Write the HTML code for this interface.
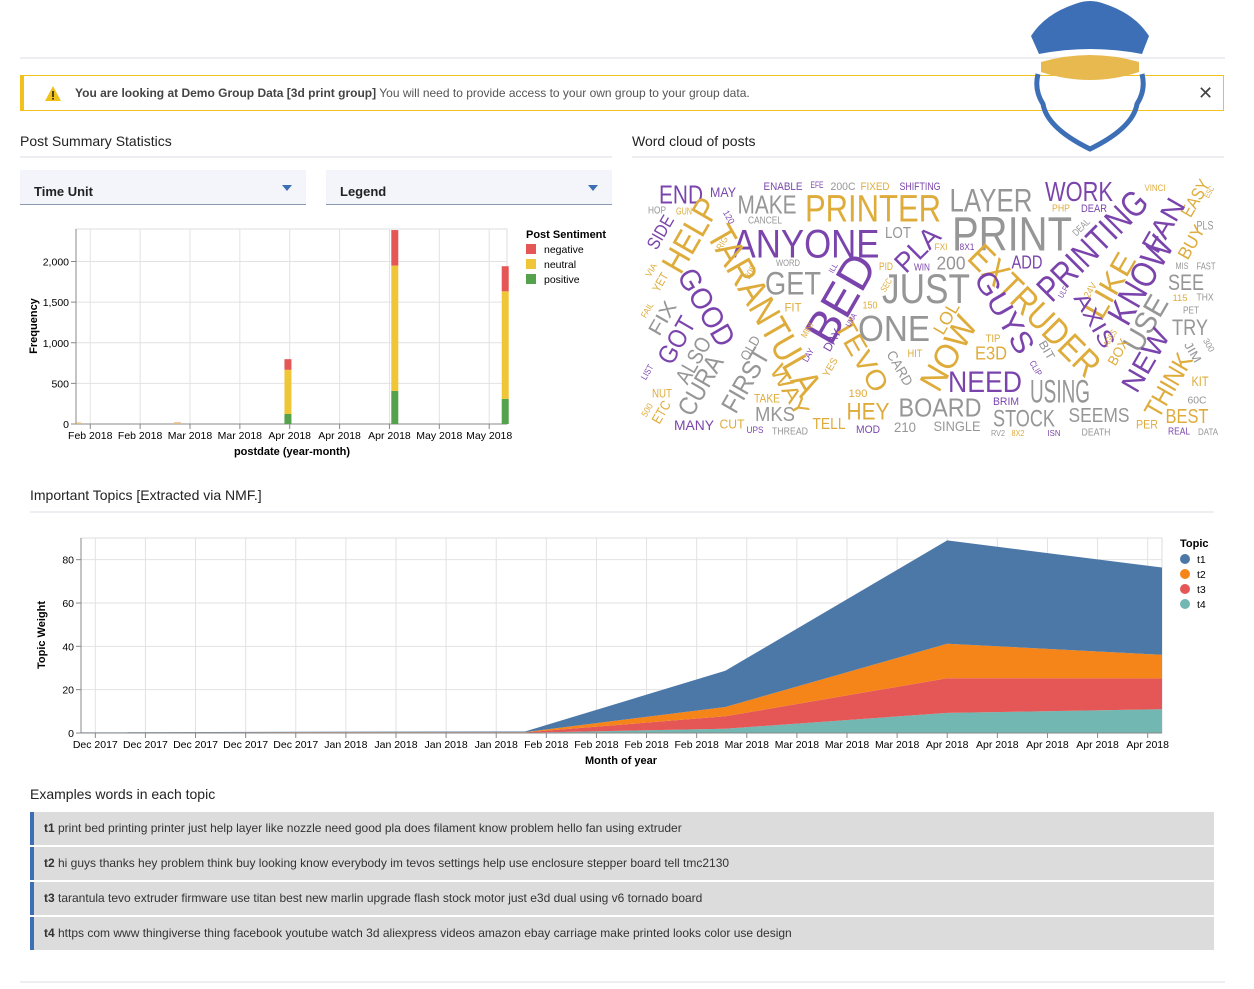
<!DOCTYPE html>
<html><head><meta charset="utf-8">
<style>
body{margin:0;width:1254px;height:989px;background:#fff;font-family:"Liberation Sans",sans-serif;position:relative;overflow:hidden;color:#333}
.abs{position:absolute}
.hr{position:absolute;height:2px;background:#eceef2}
.title{position:absolute;font-size:14px;color:#222}
.dd{position:absolute;top:170px;height:34px;background:#f3f5fa;border-bottom:1px solid #8a9ab0;width:286px}
.dd span{position:absolute;left:14px;top:14px;font-size:13px;font-weight:bold;color:#222}
.dd i{position:absolute;right:14px;top:15px;width:0;height:0;border-left:5px solid transparent;border-right:5px solid transparent;border-top:6px solid #3d6fb6}
.row{position:absolute;left:30px;height:33px;background:#dcdcdc;border-left:4px solid #3d6fb6;font-size:12px;color:#333;line-height:33px;padding-left:10px;box-sizing:border-box;width:1184px}
</style></head><body>
<div class="hr" style="left:20px;top:57px;width:1205px"></div>
<div class="abs" style="left:20px;top:75px;width:1204px;height:36px;border:1px solid #f1c21b;border-left:4px solid #f1c21b;box-sizing:border-box">
 <svg class="abs" style="left:20px;top:9px" width="18" height="17"><path d="M9 1 L17 16 L1 16 Z" fill="#f1c21b"/><rect x="8.2" y="6" width="1.6" height="6" fill="#222"/><rect x="8.2" y="13" width="1.6" height="1.6" fill="#222"/></svg>
 <div class="abs" style="left:51px;top:10px;font-size:12px;color:#555;white-space:nowrap"><b style="color:#444">You are looking at Demo Group Data [3d print group]</b> You will need to provide access to your own group to your group data.</div>
 <div class="abs" style="left:1174px;top:7px;font-size:18px;color:#444">✕</div>
</div>
<svg class="abs" style="left:1025px;top:0" width="130" height="155">
 <path d="M6,36 Q20,14 50,4 Q65,-2 80,4 Q110,14 124,36 L117,54 Q65,44 14,54 Z" fill="#3d6fb6"/>
 <path d="M16,62 Q65,48 114,62 L114,72 Q65,88 16,72 Z" fill="#e8b94f"/>
 <path d="M13,74 Q9,90 18,104 Q22,128 65,149 Q108,128 112,104 Q121,90 117,74" fill="none" stroke="#3d6fb6" stroke-width="5"/>
</svg>
<div class="title" style="left:20px;top:133px">Post Summary Statistics</div>
<div class="hr" style="left:20px;top:156px;width:592px"></div>
<div class="title" style="left:632px;top:133px">Word cloud of posts</div>
<div class="hr" style="left:632px;top:156px;width:592px"></div>
<div class="dd" style="left:20px"><span>Time Unit</span><i></i></div>
<div class="dd" style="left:326px"><span>Legend</span><i></i></div>
<div class="title" style="left:30px;top:487px">Important Topics [Extracted via NMF.]</div>
<div class="hr" style="left:30px;top:511px;width:1184px"></div>
<div class="title" style="left:30px;top:786px">Examples words in each topic</div>
<div class="row" style="top:812px"><b>t1</b> print bed printing printer just help layer like nozzle need good pla does filament know problem hello fan using extruder</div>
<div class="row" style="top:847px"><b>t2</b> hi guys thanks hey problem think buy looking know everybody im tevos settings help use enclosure stepper board tell tmc2130</div>
<div class="row" style="top:882px"><b>t3</b> tarantula tevo extruder firmware use titan best new marlin upgrade flash stock motor just e3d dual using v6 tornado board</div>
<div class="row" style="top:917px"><b>t4</b> https com www thingiverse thing facebook youtube watch 3d aliexpress videos amazon ebay carriage make printed looks color use design</div>
<div class="hr" style="left:20px;top:981px;width:1205px"></div>

<svg id="charts" class="abs" style="left:0;top:0" width="1254" height="989" font-family="Liberation Sans, sans-serif"></svg>

<script>
// ---- bar chart data ----
const barDates = ["2018-01-31","2018-02-28","2018-03-31","2018-04-30","2018-05-31"];
const barPositive = [0,0,123,407,309];
const barNeutral = [15,15,544,1543,1324];
const barNegative = [5,8,131,437,309];
const barTickDates = ["2018-02-04","2018-02-18","2018-03-04","2018-03-18","2018-04-01","2018-04-15","2018-04-29","2018-05-13","2018-05-27"];
const barTickLabels = ["Feb 2018","Feb 2018","Mar 2018","Mar 2018","Apr 2018","Apr 2018","Apr 2018","May 2018","May 2018"];
const barYTicks = [0,500,1000,1500,2000];
const barYLabels = ["0","500","1,000","1,500","2,000"];
const sentimentNames = ["negative","neutral","positive"];
// ---- area chart data ----
const areaDates = ["2017-12-01","2018-01-01","2018-02-01","2018-03-01","2018-04-01","2018-05-01"];
const topicT1 = [0.1,0.2,0.3,16.7,47.7,40.3];
const topicT2 = [0.1,0.1,0.1,4.3,15.9,10.9];
const topicT3 = [0.1,0.2,0.2,5.7,16.0,14.2];
const topicT4 = [0.0,0.1,0.1,2.0,9.3,11.0];
const areaTickDates = ["2017-12-03","2017-12-10","2017-12-17","2017-12-24","2017-12-31","2018-01-07","2018-01-14","2018-01-21","2018-01-28","2018-02-04","2018-02-11","2018-02-18","2018-02-25","2018-03-04","2018-03-11","2018-03-18","2018-03-25","2018-04-01","2018-04-08","2018-04-15","2018-04-22","2018-04-29"];
const areaTickLabels = ["Dec 2017","Dec 2017","Dec 2017","Dec 2017","Dec 2017","Jan 2018","Jan 2018","Jan 2018","Jan 2018","Feb 2018","Feb 2018","Feb 2018","Feb 2018","Mar 2018","Mar 2018","Mar 2018","Mar 2018","Apr 2018","Apr 2018","Apr 2018","Apr 2018","Apr 2018"];
const areaYTicks = [0,20,40,60,80];
const topicNames = ["t1","t2","t3","t4"];
// ---- word cloud data: text, cx, cy, size, length, rotation, color ----
const cloudWords = [
["END",681,194,26,44,0,"p"],["MAY",723,192,14,26,0,"p"],["ENABLE",783,186,11,39,0,"p"],["EFE",817,185,9,13,0,"p"],["200C",843,186,11,25,0,"g"],["FIXED",875,186,11,29,0,"y"],["SHIFTING",920,186,11,41,0,"p"],["HOP",657,210,10,18,0,"g"],["GUN",684,211,10,16,0,"y"],["MAKE",767,204,26,59,0,"g"],["PRINTER",873,208,38,136,0,"y"],["LAYER",991,200,32,83,0,"g"],["WORK",1079,191,28,68,0,"p"],["VINCI",1155,188,9,21,0,"y"],["PHP",1061,208,10,18,0,"y"],["DEAR",1094,208,11,26,0,"p"],["CANCEL",765,220,10,34,0,"g"],["ANYONE",806,243,40,147,0,"p"],["LOT",898,232,16,26,0,"g"],["PRINT",1012,233,48,120,0,"g"],["8X1",967,247,9,15,0,"p"],["FXI",941,247,9,13,0,"y"],["WORD",788,263,9,24,0,"g"],["200",951,263,18,29,0,"g"],["PID",886,266,11,14,0,"y"],["WIN",922,267,10,16,0,"p"],["ADD",1027,262,18,31,0,"p"],["SEE",1186,282,22,36,0,"g"],["MIS",1182,266,9,13,0,"g"],["FAST",1206,266,10,19,0,"g"],["GET",793,283,32,56,0,"g"],["JUST",926,288,42,88,0,"g"],["115",1180,298,9,15,0,"y"],["THX",1205,297,10,17,0,"g"],["PET",1191,310,10,16,0,"g"],["TRY",1190,327,22,36,0,"g"],["ONE",894,328,36,72,0,"g"],["FIT",793,307,12,17,0,"y"],["150",870,305,10,15,0,"y"],["E3D",991,353,18,32,0,"y"],["TIP",993,338,11,15,0,"y"],["HIT",915,353,11,15,0,"y"],["NEED",985,381,30,74,0,"p"],["USING",1060,391,32,60,0,"g"],["KIT",1200,381,14,17,0,"y"],["60C",1197,400,10,19,0,"g"],["NUT",662,393,12,20,0,"y"],["TAKE",767,398,12,26,0,"y"],["MKS",775,414,20,40,0,"g"],["190",858,393,11,19,0,"y"],["HEY",868,411,24,43,0,"y"],["BOARD",940,407,26,83,0,"g"],["BRIM",1006,401,11,26,0,"p"],["STOCK",1024,418,24,62,0,"g"],["SEEMS",1099,415,20,61,0,"g"],["BEST",1187,416,20,43,0,"y"],["MANY",694,425,14,40,0,"p"],["CUT",732,424,13,25,0,"y"],["UPS",755,430,9,17,0,"p"],["THREAD",790,431,10,36,0,"g"],["TELL",829,423,16,33,0,"y"],["MOD",868,429,11,24,0,"p"],["210",905,427,14,22,0,"g"],["SINGLE",957,426,14,47,0,"g"],["RV2",998,433,8,14,0,"g"],["8X2",1018,433,8,13,0,"y"],["ISN",1054,433,8,13,0,"p"],["DEATH",1096,432,10,29,0,"g"],["PER",1147,424,12,22,0,"y"],["REAL",1179,431,10,22,0,"p"],["DATA",1208,432,9,20,0,"g"],["PLS",1205,225,12,17,0,"g"],
["EASY",1195,198,18,40,-60,"y"],["PRINTING",1092,245,36,140,-45,"p"],["FAN",1163,225,28,58,-60,"p"],["BUY",1191,242,18,36,-60,"y"],["SIDE",660,232,18,36,-60,"p"],["HELP",690,235,34,80,-60,"y"],["PLA",917,249,28,52,-45,"p"],["EXTRUDER",1035,310,36,170,45,"y"],["LIKE",1110,285,30,70,-60,"y"],["KNOW",1140,280,36,95,-60,"p"],["TARANTULA",765,310,38,190,60,"y"],["BED",840,298,46,95,-60,"p"],["GUYS",1005,312,30,90,60,"p"],["AXIS",1095,320,22,60,60,"p"],["USE",1145,323,30,60,-60,"g"],["GOOD",707,307,30,85,60,"p"],["FIX",662,318,20,36,-60,"g"],["GOT",676,340,26,50,-60,"p"],["LOL",946,318,18,34,-60,"y"],["NOW",948,353,34,80,-60,"y"],["TEVO",862,355,28,80,60,"y"],["ALSO",693,360,22,50,-60,"g"],["CURA",700,385,26,65,-60,"g"],["FIRST",745,380,26,70,-60,"g"],["OLD",750,348,14,26,-60,"g"],["DAY",832,340,12,24,-60,"p"],["CARD",900,368,14,38,60,"g"],["BIT",1047,350,12,20,60,"g"],["NEW",1145,360,28,68,-60,"p"],["BOX",1118,352,14,28,-60,"y"],["THINK",1168,385,26,70,-60,"y"],["JIM",1193,352,12,22,60,"g"],["WAY",790,390,22,56,60,"y"],["YES",830,367,10,20,-60,"y"],["ETC",661,412,14,24,-60,"y"],["120",729,217,9,14,60,"p"],["205",750,272,9,14,-60,"y"],["VIA",651,270,9,14,-60,"y"],["YET",660,282,12,20,-60,"y"],["FAIL",647,310,9,16,-60,"y"],["MINI",807,330,9,16,-60,"y"],["LAY",808,355,9,14,-60,"p"],["UMA",851,320,8,14,-60,"p"],["SEC",886,285,9,14,-60,"y"],["ILL",833,268,8,10,-60,"p"],["24V",1090,290,10,16,-60,"y"],["ULF",1063,292,8,12,-60,"p"],["AGES",1110,338,9,18,-60,"y"],["CLIP",1036,368,9,16,60,"p"],["300",1209,345,9,14,60,"g"],["500",647,410,9,14,-60,"y"],["LIST",647,372,9,16,-60,"p"],["DEAL",1081,227,10,20,-45,"g"],["ESC",1209,192,8,12,-60,"y"],["RIG",722,243,9,14,-60,"y"]
];
const cloudColors = {p:"#6f35a5",y:"#dca52b",g:"#8e8e8e"};

const NS = "http://www.w3.org/2000/svg";
const svg = document.getElementById('charts');
function mk(tag, attrs, parent){const e=document.createElementNS(NS,tag);for(const k in attrs)e.setAttribute(k,attrs[k]);(parent||svg).appendChild(e);return e;}
function txt(s, attrs, parent){const e=mk('text',attrs,parent);e.textContent=s;return e;}
const day = s => Date.UTC(+s.slice(0,4), +s.slice(5,7)-1, +s.slice(8,10))/86400000;

// ===== Bar chart =====
const bL=76,bR=507,bT=229,bB=424,bMax=2400;
const bD0=day("2018-01-31"), bD1=day("2018-06-01");
const bx = d => bL + (d-bD0)/(bD1-bD0)*(bR-bL);
const by = v => bB - v/bMax*(bB-bT);
const bg = mk('g',{});


mk('rect',{x:bL,y:bT,width:bR-bL,height:bB-bT,fill:"none",stroke:"#ddd"},bg);
barTickDates.forEach((d,i)=>{
  const x=bx(day(d));
  mk('line',{x1:x,x2:x,y1:bT,y2:bB,stroke:"#e2e2e2"},bg);
  mk('line',{x1:x,x2:x,y1:bB,y2:bB+5,stroke:"#888"},bg);
  const t=txt(barTickLabels[i],{x:x,y:bB+15,"font-size":10.5,"text-anchor":"middle",fill:"#000"},bg);
  
  
});
barYTicks.forEach((v,i)=>{
  const y=by(v);
  mk('line',{x1:bL,x2:bR,y1:y,y2:y,stroke:"#e2e2e2"},bg);
  mk('line',{x1:bL-5,x2:bL,y1:y,y2:y,stroke:"#888"},bg);
  const t=txt(barYLabels[i],{x:bL-7,y:y+4,"font-size":10.5,"text-anchor":"end",fill:"#000"},bg);
  
  
});
mk('line',{x1:bL,x2:bL,y1:bT,y2:bB,stroke:"#888"},bg);
mk('line',{x1:bL,x2:bR,y1:bB,y2:bB,stroke:"#888"},bg);
const sentColors=["#e45756","#efc638","#54a24b"];
barDates.forEach((d,i)=>{
  const cx=bx(day(d)+0.5);
  const p=barPositive[i], n=barNeutral[i], g=barNegative[i];
  const segs=[[0,p,2],[p,p+n,1],[p+n,p+n+g,0]];
  segs.forEach(s=>{
    if(s[1]<=s[0])return;
    const x0=Math.max(bL,cx-3.5), x1=cx+3.5;
    const r=mk('rect',{x:x0,y:by(s[1]),width:x1-x0,height:by(s[0])-by(s[1]),fill:sentColors[s[2]],opacity:i<2?0.5:1},bg);
    
    
  });
});
let t1=txt("postdate (year-month)",{x:292,y:455,"font-size":11,"font-weight":"bold","text-anchor":"middle",fill:"#000"},bg);


t1=txt("Frequency",{x:37,y:326,"font-size":11,"font-weight":"bold","text-anchor":"middle",fill:"#000",transform:"rotate(-90 37 326)"},bg);


t1=txt("Post Sentiment",{x:526,y:238,"font-size":11,"font-weight":"bold",fill:"#000"},bg);


sentimentNames.forEach((s,i)=>{
  const r=mk('rect',{x:526,y:244+i*15,width:10,height:10,fill:sentColors[i]},bg);
  
  
  const t=txt(s,{x:544,y:253+i*15,"font-size":10.5,fill:"#000"},bg);
  
  
});

// ===== Word cloud =====
const wg=mk('g',{opacity:0.92});


cloudWords.forEach(w=>{
  const t=txt(w[0],{x:w[1],y:w[2]+w[3]*0.36,"font-size":w[3],"text-anchor":"middle",fill:cloudColors[w[6]],textLength:w[4],lengthAdjust:"spacingAndGlyphs",transform:"rotate("+w[5]+" "+w[1]+" "+w[2]+")"},wg);
  
  
});

// ===== Area chart =====
const aL=81,aR=1162,aT=538,aB=733,aMax=90;
const aD0=day("2017-12-01"), aD1=day("2018-05-01");
const ax = d => aL + (d-aD0)/(aD1-aD0)*(aR-aL);
const ay = v => aB - v/aMax*(aB-aT);
const ag=mk('g',{});


mk('rect',{x:aL,y:aT,width:aR-aL,height:aB-aT,fill:"none",stroke:"#ddd"},ag);
areaTickDates.forEach((d,i)=>{
  const x=ax(day(d));
  mk('line',{x1:x,x2:x,y1:aT,y2:aB,stroke:"#e2e2e2"},ag);
  mk('line',{x1:x,x2:x,y1:aB,y2:aB+5,stroke:"#888"},ag);
  const t=txt(areaTickLabels[i],{x:x,y:aB+15,"font-size":10.5,"text-anchor":"middle",fill:"#000"},ag);
  
  
});
areaYTicks.forEach(v=>{
  const y=ay(v);
  mk('line',{x1:aL,x2:aR,y1:y,y2:y,stroke:"#e2e2e2"},ag);
  mk('line',{x1:aL-5,x2:aL,y1:y,y2:y,stroke:"#888"},ag);
  const t=txt(String(v),{x:aL-7,y:y+4,"font-size":10.5,"text-anchor":"end",fill:"#000"},ag);
  
  
});
mk('line',{x1:aL,x2:aL,y1:aT,y2:aB,stroke:"#888"},ag);
const series=[topicT4,topicT3,topicT2,topicT1];
const seriesNames=["t4","t3","t2","t1"];
const topicColors={t1:"#4c78a8",t2:"#f58518",t3:"#e45756",t4:"#72b7b2"};
let base=areaDates.map(()=>0);
series.forEach((s,k)=>{
  const top=base.map((b,i)=>b+s[i]);
  let d="";
  areaDates.forEach((dt,i)=>{d+=(i?"L":"M")+ax(day(dt)).toFixed(1)+","+ay(top[i]).toFixed(1);});
  for(let i=areaDates.length-1;i>=0;i--) d+="L"+ax(day(areaDates[i])).toFixed(1)+","+ay(base[i]).toFixed(1);
  const p=mk('path',{d:d+"Z",fill:topicColors[seriesNames[k]]},ag);
  
  
  base=top;
});
mk('line',{x1:aL,x2:aR,y1:aB,y2:aB,stroke:"#888"},ag);
t1=txt("Month of year",{x:621,y:764,"font-size":11,"font-weight":"bold","text-anchor":"middle",fill:"#000"},ag);


t1=txt("Topic Weight",{x:45,y:635,"font-size":11,"font-weight":"bold","text-anchor":"middle",fill:"#000",transform:"rotate(-90 45 635)"},ag);


t1=txt("Topic",{x:1180,y:547,"font-size":11,"font-weight":"bold",fill:"#000"},ag);


topicNames.forEach((n,i)=>{
  const c=mk('circle',{cx:1185,cy:559+i*15,r:5,fill:topicColors[n]},ag);
  
  
  const t=txt(n,{x:1197,y:563+i*15,"font-size":10.5,fill:"#000"},ag);
  
  
});
</script>
</body></html>
